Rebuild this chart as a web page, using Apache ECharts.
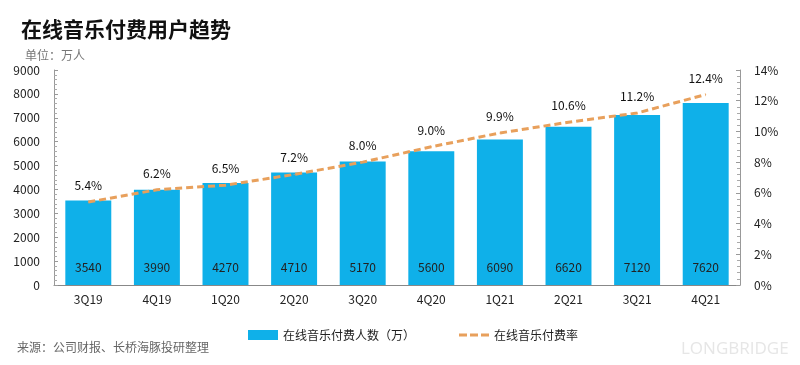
<!DOCTYPE html>
<html><head><meta charset="utf-8">
<script src="https://cdn.jsdelivr.net/npm/echarts@6/dist/echarts.min.js"></script>
<style>html,body{margin:0;padding:0;background:#fff}#c{width:800px;height:365px}</style>
</head><body><div id="c"></div>
<script>
const categories = ['3Q19','4Q19','1Q20','2Q20','3Q20','4Q20','1Q21','2Q21','3Q21','4Q21'];
const payingUsers = [3540,3990,4270,4710,5170,5600,6090,6620,7120,7620];
const payingRate = [5.4,6.2,6.5,7.2,8.0,9.0,9.9,10.6,11.2,12.4];
const barName = '在线音乐付费人数（万）';
const lineName = '在线音乐付费率';

const chart = echarts.init(document.getElementById('c'));
const font = '"Noto Sans CJK SC","Noto Sans",sans-serif';
chart.setOption({
  animation:false,
  textStyle:{fontFamily:font},
  title:[
    {text:'在线音乐付费用户趋势',left:16,top:14,textStyle:{fontSize:21,fontWeight:'bold',color:'#111',fontFamily:font}},
    {text:'单位：万人',left:20,top:44,textStyle:{fontSize:12,fontWeight:'normal',color:'#777',fontFamily:font}},
    {text:'来源：公司财报、长桥海豚投研整理',left:12,top:336,textStyle:{fontSize:12,fontWeight:'normal',color:'#666',fontFamily:font}},
    {text:'LONGBRIDGE',left:676,top:336,textStyle:{fontSize:17,fontWeight:'normal',color:'#e6e6e6',fontFamily:'"Open Sans",sans-serif'}}
  ],
  legend:{
    top:324,left:243,itemGap:44,itemWidth:30,itemHeight:10,
    textStyle:{fontSize:12,color:'#222'},
    data:[{name:barName,icon:'rect'},
          {name:lineName,icon:'path://M0,0 L8,0 L8,3 L0,3 Z M11,0 L19,0 L19,3 L11,3 Z M22,0 L30,0 L30,3 L22,3 Z',itemHeight:3}]
  },
  grid:{left:54,right:60,top:70,bottom:80},
  xAxis:{
    type:'category',data:categories,
    axisLine:{lineStyle:{color:'#888'}},axisTick:{show:false},
    axisLabel:{color:'#222',fontSize:12,margin:8}
  },
  yAxis:[
    {type:'value',min:0,max:9000,interval:1000,
     axisLine:{show:true,lineStyle:{color:'#999'}},
     axisTick:{show:true,inside:true,length:4,lineStyle:{color:'#999'}},
     minorTick:{show:true,splitNumber:5,length:3,lineStyle:{color:'#aaa'}},
     splitLine:{show:false},
     axisLabel:{color:'#222',fontSize:12,margin:14,formatter:v=>String(v)}},
    {type:'value',min:0,max:14,interval:2,
     axisLine:{show:true,lineStyle:{color:'#999'}},
     axisTick:{show:true,inside:true,length:4,lineStyle:{color:'#999'}},
     minorTick:{show:true,splitNumber:5,length:3,lineStyle:{color:'#aaa'}},
     splitLine:{show:false},
     axisLabel:{color:'#222',fontSize:12,margin:14,formatter:'{value}%'}}
  ],
  series:[
    {name:barName,type:'bar',data:payingUsers,barWidth:'67%',
     itemStyle:{color:'#0fb0e9'},
     label:{show:true,position:'insideBottom',distance:12,color:'#222',fontSize:12}},
    {name:lineName,type:'line',yAxisIndex:1,data:payingRate,
     symbol:'circle',symbolSize:1,showSymbol:true,
     lineStyle:{color:'#e8a05c',width:3,type:[7,4]},
     itemStyle:{color:'#e8a05c'},
     label:{show:true,position:'top',distance:10,color:'#111',fontSize:12,formatter:p=>p.value.toFixed(1)+'%'}}
  ]
});
</script></body></html>
